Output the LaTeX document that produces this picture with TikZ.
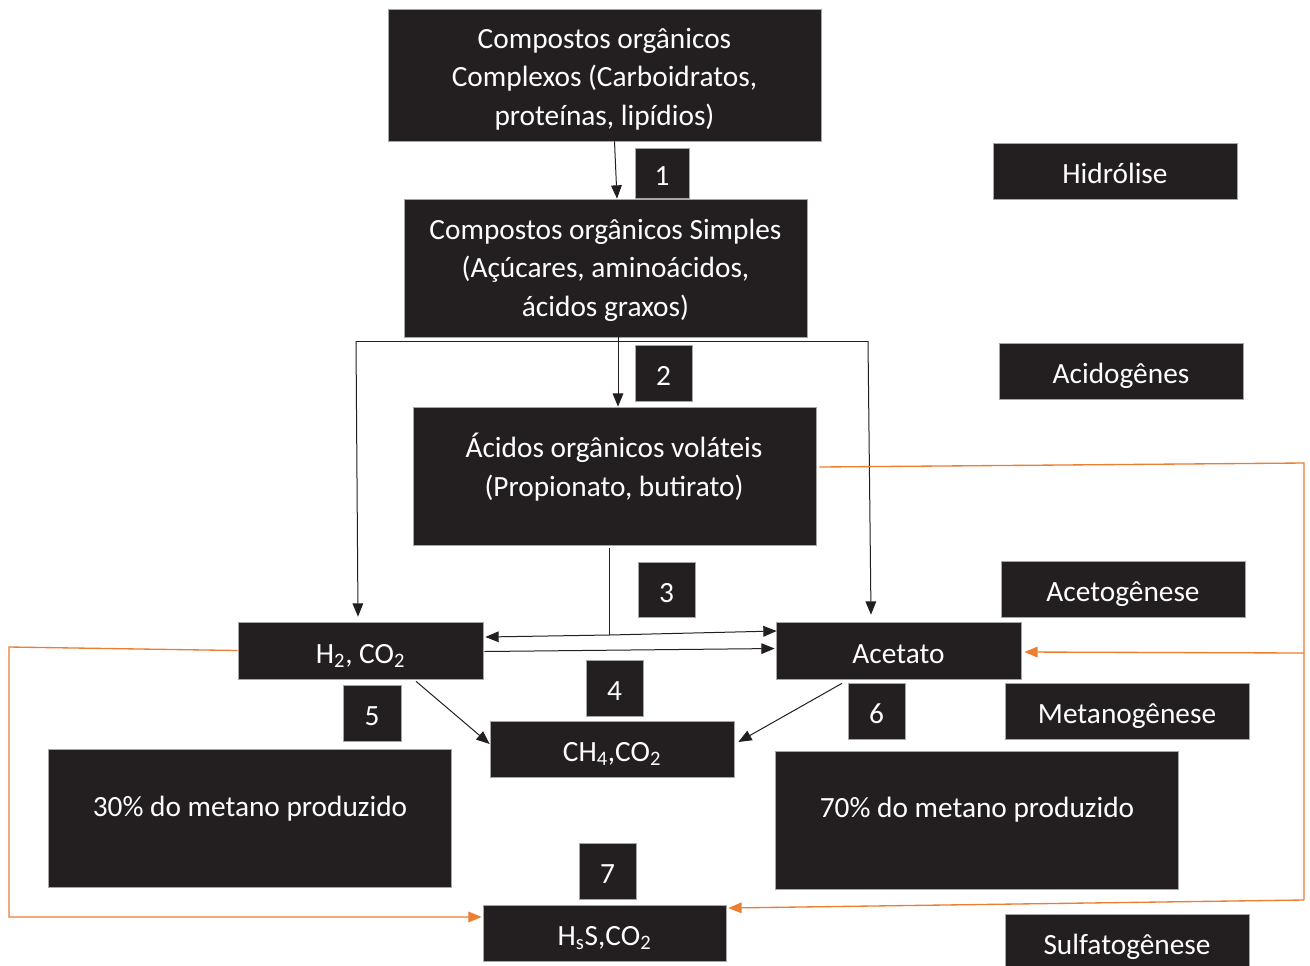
\documentclass[tikz,border=0pt]{standalone}
\usepackage{fontspec}
\setmainfont{Carlito}
\usetikzlibrary{arrows.meta,calc}
\definecolor{boxc}{HTML}{231F20}
\definecolor{orng}{HTML}{ED7D31}
\begin{document}
\begin{tikzpicture}[x=0.75pt,y=-0.75pt,
  box/.style={fill=boxc,draw=gray!70,line width=0.5pt,inner sep=0pt,text=white,font=\fontsize{22}{29}\selectfont},
  one/.style={box,text height=19.5pt,text depth=0.5pt},
  wide/.style={box,minimum width=302.25pt,minimum height=103.5pt},
  mid/.style={one,minimum width=183pt,minimum height=42pt},
  num/.style={one,minimum width=42.75pt,minimum height=42pt},
  txt/.style={inner sep=0pt,text=white,align=center,font=\fontsize{22}{29}\selectfont},
  arr/.style={-{Triangle[length=10pt,width=8pt]},line width=0.75pt,draw=boxc},
  ln/.style={line width=0.75pt,draw=boxc},
  oarr/.style={-{Triangle[length=10pt,width=8pt]},line width=1pt,draw=orng},
  oln/.style={line width=1pt,draw=orng}]
\useasboundingbox (0,0) rectangle (1310,965);
\node[box,minimum width=324.75pt,minimum height=99pt] (A) at (604.5,75) {};
\node[txt] (At) at (604.5,79) {Compostos orgânicos\\Complexos (Carboidratos,\\proteínas, lipídios)};
\node[num,minimum width=40.5pt,minimum height=37.5pt] (n1) at (662,173) {1};
\node[wide] (B) at (605.5,268) {};
\node[txt] (Bt) at (605.5,270) {Compostos orgânicos Simples\\(Açúcares, aminoácidos,\\ácidos graxos)};
\node[mid] (hid) at (1115,171) {Hidrólise};
\node[num] (n2) at (663.5,373) {2};
\node[mid] (acid) at (1121,371) {Acidogênes};
\node[wide] (C) at (614.5,476) {};
\node[txt] (Ct) at (614,467) {Ácidos orgânicos voláteis\\(Propionato, butirato)};
\node[num,minimum height=41.25pt] (n3) at (666.5,589.5) {3};
\node[mid] (acet) at (1123,589) {Acetogênese};
\node[mid,minimum width=183.75pt,minimum height=42.75pt] (H) at (360.5,650.5) {H\textsubscript{2}, CO\textsubscript{2}};
\node[mid,minimum width=183.75pt,minimum height=42.75pt] (Ac) at (898.5,650.5) {Acetato};
\node[num] (n4) at (614.5,688) {4};
\node[num,minimum width=43.5pt] (n5) at (372,713) {5};
\node[mid] (CH) at (612,749) {CH\textsubscript{4},CO\textsubscript{2}};
\node[num] (n6) at (876.5,711) {6};
\node[mid] (met) at (1127,711) {Metanogênese};
\node[wide] (P30) at (250,818) {};
\node[txt] (P30t) at (250,809) {30\% do metano produzido};
\node[wide] (P70) at (977,820) {};
\node[txt] (P70t) at (977,810) {70\% do metano produzido};
\node[num] (n7) at (607.5,871) {7};
\node[mid,minimum width=182.25pt] (HS) at (604.5,933) {H\textsubscript{s}S,CO\textsubscript{2}};
\node[mid] (sul) at (1127,942) {Sulfatogênese};
% black connectors
\draw[arr] ($(A.south)+(10,0)$) -- ($(B.north)+(11.5,0)$);
\draw[arr] ($(B.south)+(12.5,0)$) -- ($(C.north)+(3.5,0)$);
\coordinate (bl) at (356,341);
\coordinate (br) at (868,341);
\draw[ln] (bl) -- (br);
\draw[arr] (bl) -- ($(H.north)+(-2.5,-5)$);
\draw[arr] (br) -- ($(Ac.north)+(-27.5,-7)$);
\coordinate (c3) at (609,635);
\draw[ln] ($(C.south)+(-5.5,3)$) -- (c3);
\draw[arr] (c3) -- ($(H.east)+(2,-13.5)$);
\draw[arr] (c3) -- ($(Ac.west)+(1,-19.5)$);
\draw[arr] ($(H.east)+(1,1)$) -- ($(Ac.west)+(-1,-2)$);
\draw[arr] ($(H.south)+(55.5,2)$) -- ($(CH.west)+(0,-5)$);
\draw[arr] ($(Ac.south)+(-56.5,4)$) -- ($(CH.east)+(4,-7)$);
% orange connectors
\coordinate (oR1) at (1304,463);
\coordinate (oR2) at (1304,653);
\coordinate (oR3) at (1304,900);
\draw[oln] ($(C.east)+(3,-9)$) -- (oR1) -- (oR3);
\draw[oarr] (oR3) -- ($(HS.east)+(2,-25)$);
\draw[oarr] (oR2) -- ($(Ac.east)+(3,1.5)$);
\coordinate (oL1) at (9,647);
\coordinate (oL2) at (9,917);
\draw[oarr] (H.west) -- (oL1) -- (oL2) -- ($(HS.west)+(-1,-16)$);
\end{tikzpicture}
\end{document}
